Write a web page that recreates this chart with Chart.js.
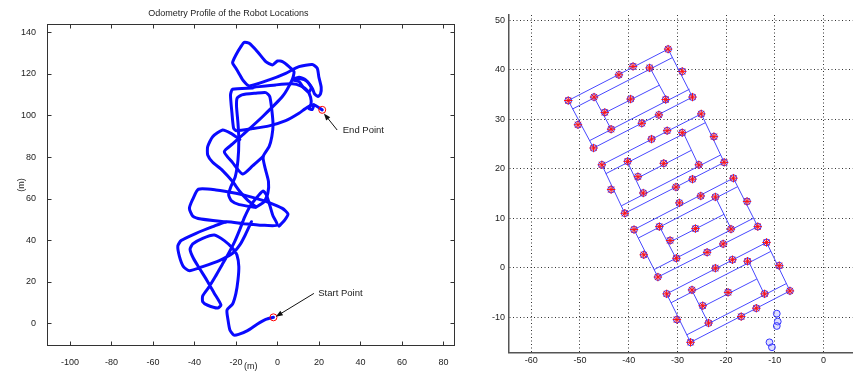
<!DOCTYPE html>
<html>
<head>
<meta charset="utf-8">
<script src="https://cdn.jsdelivr.net/npm/chart.js@4.4.1/dist/chart.umd.min.js"></script>
<style>
html, body { margin: 0; padding: 0; background: #fff; }
#wrap { position: relative; width: 858px; height: 372px; overflow: hidden; }
#odo { position: absolute; left: 0; top: 0; }
#map { position: absolute; left: 460px; top: 0; }
</style>
</head>
<body>
<div id="wrap">
  <canvas id="odo" width="460" height="372"></canvas>
  <canvas id="map" width="398" height="372"></canvas>
</div>
<script>
// ---- left plot: odometry path (metres) ----
const odoTicksX = [-100, -80, -60, -40, -20, 0, 20, 40, 60, 80];
const odoTicksY = [0, 20, 40, 60, 80, 100, 120, 140];
const startPoint = [-1.9, 2.9];
const endPoint = [21.6, 102.7];

const odoLower = [[-1.9,2.9],[-5.6,1.9],[-9.6,-0.3],[-14.4,-3.5],[-18.7,-5.3],[-21.1,-5.6],[-22.9,-3.2],[-23.8,1.6],[-24.3,6.4],[-21.6,9.3],[-20.0,14.4],[-19.0,20.9],[-18.6,27.3],[-19.5,32.9],[-21.6,36.1],[-25.6,39.8],[-30.4,42.5],[-36.0,40.9],[-40.8,38.2],[-42.1,35.6],[-40.5,31.3],[-37.6,26.5],[-34.1,20.9],[-30.4,14.4],[-27.2,8.8],[-28.8,7.4],[-33.6,8.7],[-36.0,10.4],[-36.0,13.2],[-33.1,17.3],[-29.9,22.5],[-26.7,28.1],[-23.5,33.7],[-20.6,39.3],[-18.1,45.2],[-15.7,51.3],[-12.8,56.9],[-9.3,61.3],[-6.9,63.7],[-5.3,61.8],[-3.7,56.9],[-2.1,51.6],[0.0,47.2],[-7.2,47.2],[-16.8,48.0],[-24.8,48.8],[-31.2,46.5],[-39.2,43.3],[-46.4,39.8],[-48.0,37.2],[-47.2,32.1],[-45.3,27.3],[-42.4,25.3],[-36.0,27.3],[-28.0,30.2],[-21.6,33.7],[-18.1,37.7],[-15.5,42.5],[-12.5,48.9]];
const odoSixty = [[-24.8,48.8],[-36.8,50.2],[-40.8,51.6],[-42.4,55.3],[-40.8,59.7],[-38.1,64.5],[-29.6,64.2],[-20.0,62.6],[-12.0,60.6],[-4.0,58.1],[2.4,55.3],[5.1,52.6],[3.5,49.7],[0.8,46.8]];
const odoMiddle = [[-10.4,55.8],[-18.4,57.1],[-22.1,58.9],[-23.5,61.8],[-22.4,65.8],[-20.3,70.6],[-19.0,78.6],[-18.6,88.2],[-19.0,96.2],[-19.7,104.3],[-19.4,108.3],[-17.1,109.9],[-10.4,110.7],[-5.6,111.0],[-3.7,109.1],[-2.7,102.7],[-2.1,95.4],[-2.7,89.8],[-4.0,85.0],[-6.9,80.2],[-5.9,74.6],[-4.3,68.2],[-4.6,62.6],[-6.4,58.5],[-10.4,55.8]];
const odoLeftLoop = [[-18.1,88.5],[-22.4,91.4],[-26.4,93.0],[-31.2,89.8],[-33.6,85.0],[-33.6,81.0],[-31.2,77.5],[-26.4,73.5],[-21.6,68.2],[-18.4,63.8],[-14.4,59.3],[-10.4,56.1]];
const odoUpper = [[-6.9,80.2],[-12.0,75.7],[-16.8,71.8],[-21.6,77.3],[-25.6,82.6],[-21.6,86.3],[-16.8,90.6],[-7.2,99.4],[2.4,109.1],[7.2,117.4],[8.0,121.1],[5.6,123.5],[2.4,125.9],[0.0,126.2],[-2.4,124.3],[-5.6,125.9],[-9.6,130.7],[-13.6,134.7],[-16.0,135.2],[-17.6,133.1],[-20.0,129.1],[-21.6,125.4],[-20.0,122.7],[-18.4,120.0],[-16.5,116.8],[-13.6,114.2],[-4.0,117.1],[4.0,120.3],[10.4,123.5],[16.8,124.5],[19.2,122.7],[20.0,118.4],[21.1,113.6],[20.8,110.4],[19.5,109.1],[17.9,110.4],[16.8,113.1],[13.6,117.1],[10.4,118.4],[7.2,117.4]];
const odoEnd = [[-12.0,113.2],[-21.6,112.6],[-22.6,109.9],[-21.9,101.1],[-21.1,93.8],[-19.7,92.7],[-12.0,93.7],[-4.0,95.0],[4.0,97.5],[10.4,101.1],[14.4,103.9],[17.6,105.1],[21.6,102.7]];
const odoCross = [[-11.2,113.6],[-0.8,114.7],[7.2,115.2],[11.2,114.2],[14.4,112.0],[16.0,108.7],[16.2,105.5],[15.2,103.3],[16.8,102.9],[17.6,105.1]];
const odoKnot = [[7.2,117.1],[10.4,116.3],[12.8,113.1],[15.2,111.3],[16.3,113.4],[14.4,116.3],[11.2,117.6],[7.2,117.1]];

const odoNotes = [
  { text: 'End Point', at: [31.5, 92.7], tail: [28.8, 93.0], head: [22.4, 101.0] },
  { text: 'Start Point', at: [19.7, 14.4], tail: [17.6, 14.4], head: [-0.8, 3.2] }
];

// ---- right plot: landmark map ----
const mapTicksX = [-60, -50, -40, -30, -20, -10, 0];
const mapTicksY = [-10, 0, 10, 20, 30, 40, 50];

const landmarks = [
  [-52.4,33.8],[-50.4,28.9],[-47.2,24.2],[-47.1,34.5],[-44.9,31.4],[-43.6,28.0],[-42.0,39.0],[-39.1,40.7],
  [-39.6,34.1],[-37.3,29.2],[-35.7,40.4],[-33.8,30.9],[-32.4,34.0],[-31.9,44.2],[-29.0,39.7],[-26.9,34.5],
  [-45.5,20.8],[-43.6,15.8],[-40.8,11.0],[-40.2,21.5],[-38.1,18.4],[-37.0,15.1],[-35.3,26.0],[-32.1,27.7],
  [-32.8,21.1],[-30.3,16.3],[-29.0,27.3],[-26.9,17.9],[-25.6,20.8],[-25.1,31.1],[-22.5,26.5],[-20.4,21.3],
  [-38.9,7.7],[-36.9,2.6],[-34.0,-1.9],[-33.7,8.3],[-31.5,5.5],[-30.2,1.9],[-29.6,13.1],[-26.3,7.9],
  [-25.2,14.5],[-23.9,3.1],[-22.2,14.3],[-20.6,4.8],[-19.0,7.8],[-18.5,18.1],[-15.7,13.4],[-13.5,8.3],
  [-32.2,-5.3],[-30.1,-10.5],[-27.3,-15.1],[-27.0,-4.5],[-24.8,-7.7],[-23.6,-11.2],[-22.2,-0.1],[-19.6,-5.0],
  [-18.7,1.6],[-16.9,-9.9],[-15.6,1.3],[-13.8,-8.2],[-12.1,-5.3],[-11.7,5.1],[-9.1,0.4],[-6.9,-4.7]
];
const strayCircles = [[-9.6,-9.3],[-9.4,-10.9],[-9.6,-11.8],[-11.1,-15.1],[-10.6,-16.1]];

const corridorLines = [
  [[-52.4,33.8],[-31.9,44.2]], [[-51.5,32.1],[-31.0,42.5]], [[-48.0,25.7],[-27.5,36.1]], [[-47.2,24.2],[-26.9,34.5]],
  [[-52.4,33.8],[-47.2,24.2]], [[-31.9,44.2],[-26.9,34.5]], [[-47.0,34.3],[-43.6,28.0]], [[-35.5,40.2],[-32.0,33.8]],
  [[-45.3,31.1],[-33.7,36.9]],
  [[-45.5,20.8],[-25.1,31.1]], [[-44.7,19.0],[-24.3,29.3]], [[-41.5,12.5],[-21.1,22.8]], [[-40.8,11.0],[-20.4,21.3]],
  [[-45.5,20.8],[-40.8,11.0]], [[-25.1,31.1],[-20.4,21.3]], [[-40.2,21.3],[-37.1,14.8]], [[-28.7,27.1],[-25.6,20.6]],
  [[-38.6,17.9],[-27.2,23.7]],
  [[-38.9,7.7],[-18.5,18.1]], [[-38.0,6.0],[-17.6,16.4]], [[-34.8,-0.4],[-14.4,10.0]], [[-34.0,-1.9],[-13.5,8.3]],
  [[-38.9,7.7],[-34.0,-1.9]], [[-18.5,18.1],[-13.5,8.3]], [[-33.6,8.2],[-30.3,1.9]], [[-22.1,14.1],[-18.9,7.7]],
  [[-31.9,5.0],[-20.4,10.8]],
  [[-32.2,-5.3],[-11.7,5.1]], [[-31.3,-7.1],[-10.8,3.3]], [[-28.1,-13.6],[-7.6,-3.2]], [[-27.3,-15.1],[-6.9,-4.7]],
  [[-32.2,-5.3],[-27.3,-15.1]], [[-11.7,5.1],[-6.9,-4.7]], [[-26.9,-4.8],[-23.6,-11.3]], [[-15.3,1.1],[-12.1,-5.5]],
  [[-25.2,-8.1],[-13.7,-2.3]]
];

Chart.defaults.font.family = '"Liberation Sans", Arial, Helvetica, sans-serif';
Chart.defaults.font.size = 9;
Chart.defaults.color = '#222';

const toXY = (pts) => pts.map((p) => ({ x: p[0], y: p[1] }));

// frame, inward ticks and arrows for the odometry plot
const odoDecor = {
  id: 'odoDecor',
  afterDatasetsDraw(chart) {
    const { ctx, chartArea: a, scales: { x, y } } = chart;
    ctx.save();
    ctx.strokeStyle = '#333';
    ctx.lineWidth = 1;
    const l = Math.round(a.left) + 0.5, r = Math.round(a.right) - 0.5;
    const t = Math.round(a.top) + 0.5, b = Math.round(a.bottom) - 0.5;
    ctx.strokeRect(l, t, r - l, b - t);
    ctx.beginPath();
    x.ticks.forEach((tk) => {
      const px = Math.round(x.getPixelForValue(tk.value)) + 0.5;
      ctx.moveTo(px, b); ctx.lineTo(px, b - 4);
      ctx.moveTo(px, t); ctx.lineTo(px, t + 4);
    });
    y.ticks.forEach((tk) => {
      const py = Math.round(y.getPixelForValue(tk.value)) + 0.5;
      ctx.moveTo(l, py); ctx.lineTo(l + 4, py);
      ctx.moveTo(r, py); ctx.lineTo(r - 4, py);
    });
    ctx.stroke();

    odoNotes.forEach((n) => {
      const tx = x.getPixelForValue(n.tail[0]), ty = y.getPixelForValue(n.tail[1]);
      const hx = x.getPixelForValue(n.head[0]), hy = y.getPixelForValue(n.head[1]);
      const ang = Math.atan2(hy - ty, hx - tx);
      ctx.strokeStyle = '#111';
      ctx.fillStyle = '#111';
      ctx.beginPath();
      ctx.moveTo(tx, ty);
      ctx.lineTo(hx - 5 * Math.cos(ang), hy - 5 * Math.sin(ang));
      ctx.stroke();
      ctx.beginPath();
      ctx.moveTo(hx, hy);
      ctx.lineTo(hx - 7 * Math.cos(ang) + 2.6 * Math.sin(ang), hy - 7 * Math.sin(ang) - 2.6 * Math.cos(ang));
      ctx.lineTo(hx - 7 * Math.cos(ang) - 2.6 * Math.sin(ang), hy - 7 * Math.sin(ang) + 2.6 * Math.cos(ang));
      ctx.closePath();
      ctx.fill();
      ctx.fillStyle = '#222';
      ctx.font = '9.5px "Liberation Sans", Arial, sans-serif';
      ctx.textAlign = 'left';
      ctx.textBaseline = 'middle';
      ctx.fillText(n.text, x.getPixelForValue(n.at[0]), y.getPixelForValue(n.at[1]));
    });
    ctx.restore();
  }
};

const pathStyle = {
  showLine: true,
  borderColor: '#0a0aff',
  borderWidth: 3,
  pointRadius: 0,
  tension: 0.2,
  borderJoinStyle: 'round',
  borderCapStyle: 'round'
};

const odoSegments = [odoLower, odoSixty, odoMiddle, odoLeftLoop, odoUpper, odoEnd, odoCross, odoKnot];

new Chart(document.getElementById('odo'), {
  type: 'scatter',
  data: {
    datasets: [
      {
        data: toXY([startPoint, endPoint]),
        pointStyle: 'circle',
        pointRadius: 3.5,
        pointBorderColor: '#ff0000',
        pointBackgroundColor: 'rgba(0,0,0,0)',
        pointBorderWidth: 1
      },
      ...odoSegments.map((seg) => Object.assign({ data: toXY(seg) }, pathStyle))
    ]
  },
  options: {
    responsive: false,
    animation: false,
    layout: { padding: { left: 0, right: 3.3, top: 0, bottom: 0 } },
    plugins: {
      legend: { display: false },
      tooltip: { enabled: false },
      title: {
        display: true,
        text: 'Odometry Profile of the Robot Locations',
        color: '#222',
        font: { size: 9, weight: 'normal' },
        padding: { top: 8.6, bottom: 4.6 }
      }
    },
    scales: {
      x: {
        type: 'linear',
        min: -111.2,
        max: 85.6,
        grid: { display: false },
        border: { display: false },
        ticks: { autoSkip: false, maxRotation: 0, padding: 3.6 },
        title: { display: true, text: '(m)', padding: 0, font: { size: 9 } },
        afterBuildTicks: (s) => { s.ticks = odoTicksX.map((v) => ({ value: v })); },
        afterFit: (s) => { s.height = 26; }
      },
      y: {
        type: 'linear',
        min: -10.9,
        max: 144,
        grid: { display: false },
        border: { display: false },
        ticks: { autoSkip: false, padding: 2.7 },
        title: { display: true, text: '(m)', padding: { top: 16.4, bottom: 0 }, font: { size: 9 } },
        afterBuildTicks: (s) => { s.ticks = odoTicksY.map((v) => ({ value: v })); },
        afterFit: (s) => { s.width = 46.7; }
      }
    }
  },
  plugins: [odoDecor]
});

new Chart(document.getElementById('map'), {
  type: 'scatter',
  data: {
    datasets: [
      {
        data: toXY(landmarks),
        pointStyle: 'star',
        pointRadius: 4.2,
        pointBorderColor: '#ff1010',
        pointBackgroundColor: 'rgba(0,0,0,0)',
        pointBorderWidth: 1
      },
      {
        data: toXY(landmarks.concat(strayCircles)),
        pointStyle: 'circle',
        pointRadius: 3.4,
        pointBorderColor: '#3535ff',
        pointBackgroundColor: 'rgba(150,150,255,0.3)',
        pointBorderWidth: 1
      },
      ...corridorLines.map((seg) => ({
        data: toXY(seg),
        showLine: true,
        borderColor: '#4848ff',
        borderWidth: 1,
        pointRadius: 0
      }))
    ]
  },
  options: {
    responsive: false,
    animation: false,
    layout: { padding: { left: 0, right: 0, top: 15, bottom: 0 } },
    plugins: { legend: { display: false }, tooltip: { enabled: false } },
    scales: {
      x: {
        type: 'linear',
        min: -64.7,
        max: 6.0,
        grid: { color: '#333', lineWidth: 1, drawTicks: false },
        border: { display: true, color: '#555', width: 1.5, dash: [1, 2.5] },
        ticks: { autoSkip: false, maxRotation: 0, padding: 2.6 },
        afterBuildTicks: (s) => { s.ticks = mapTicksX.map((v) => ({ value: v })); },
        afterFit: (s) => { s.height = 19.3; }
      },
      y: {
        type: 'linear',
        min: -17.2,
        max: 51.1,
        grid: { color: '#333', lineWidth: 1, drawTicks: false },
        border: { display: true, color: '#555', width: 1.5, dash: [1, 2.5] },
        ticks: { autoSkip: false, padding: 3.3 },
        afterBuildTicks: (s) => { s.ticks = mapTicksY.map((v) => ({ value: v })); },
        afterFit: (s) => { s.width = 48.3; }
      }
    }
  }
});
</script>
</body>
</html>
